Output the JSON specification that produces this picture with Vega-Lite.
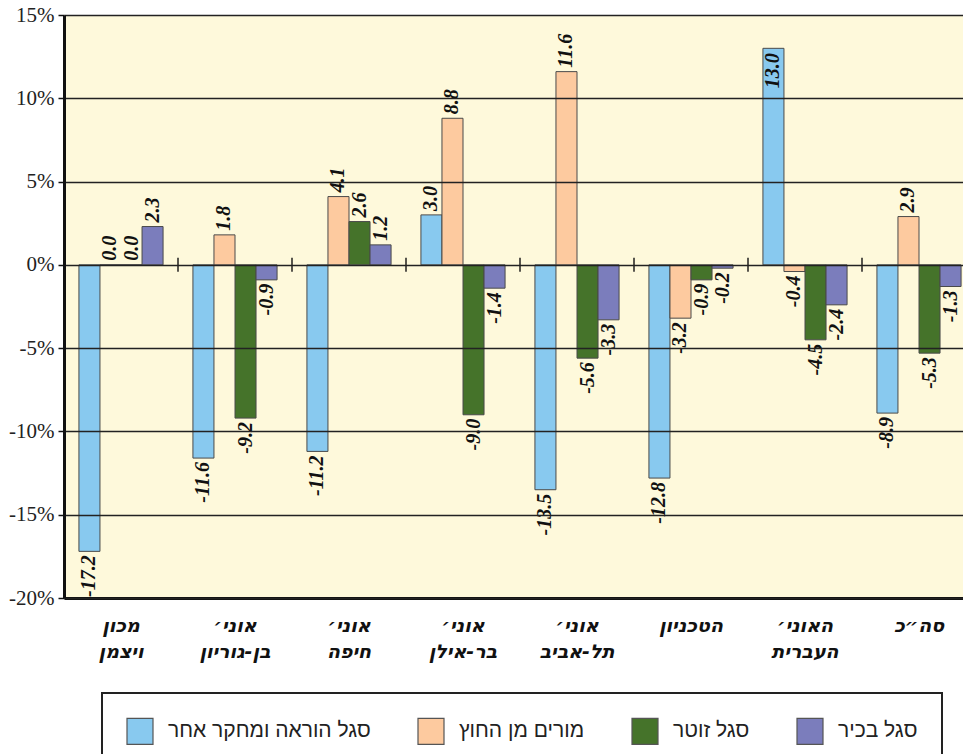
{
  "$schema": "https://vega.github.io/schema/vega-lite/v6.json",
  "width": 912,
  "height": 583,
  "autosize": {"type": "none"},
  "padding": {"left": 64, "top": 15, "right": 0, "bottom": 156},
  "background": "#FFFFFF",
  "config": {
    "view": {"stroke": null, "fill": "#FEF9DB"},
    "locale": {"number": {"decimal": ".", "thousands": ",", "grouping": [3], "currency": ["$", ""], "minus": "-"}}
  },
  "data": {
    "values": [
      {"group": "מכון|ויצמן", "series": "סגל הוראה ומחקר אחר", "value": -17.2},
      {"group": "מכון|ויצמן", "series": "מורים מן החוץ", "value": 0.0},
      {"group": "מכון|ויצמן", "series": "סגל זוטר", "value": 0.0},
      {"group": "מכון|ויצמן", "series": "סגל בכיר", "value": 2.3},
      {"group": "אוני׳|בן-גוריון", "series": "סגל הוראה ומחקר אחר", "value": -11.6},
      {"group": "אוני׳|בן-גוריון", "series": "מורים מן החוץ", "value": 1.8},
      {"group": "אוני׳|בן-גוריון", "series": "סגל זוטר", "value": -9.2},
      {"group": "אוני׳|בן-גוריון", "series": "סגל בכיר", "value": -0.9},
      {"group": "אוני׳|חיפה", "series": "סגל הוראה ומחקר אחר", "value": -11.2},
      {"group": "אוני׳|חיפה", "series": "מורים מן החוץ", "value": 4.1},
      {"group": "אוני׳|חיפה", "series": "סגל זוטר", "value": 2.6},
      {"group": "אוני׳|חיפה", "series": "סגל בכיר", "value": 1.2},
      {"group": "אוני׳|בר-אילן", "series": "סגל הוראה ומחקר אחר", "value": 3.0},
      {"group": "אוני׳|בר-אילן", "series": "מורים מן החוץ", "value": 8.8},
      {"group": "אוני׳|בר-אילן", "series": "סגל זוטר", "value": -9.0},
      {"group": "אוני׳|בר-אילן", "series": "סגל בכיר", "value": -1.4},
      {"group": "אוני׳|תל-אביב", "series": "סגל הוראה ומחקר אחר", "value": -13.5},
      {"group": "אוני׳|תל-אביב", "series": "מורים מן החוץ", "value": 11.6},
      {"group": "אוני׳|תל-אביב", "series": "סגל זוטר", "value": -5.6},
      {"group": "אוני׳|תל-אביב", "series": "סגל בכיר", "value": -3.3},
      {"group": "הטכניון", "series": "סגל הוראה ומחקר אחר", "value": -12.8},
      {"group": "הטכניון", "series": "מורים מן החוץ", "value": -3.2},
      {"group": "הטכניון", "series": "סגל זוטר", "value": -0.9},
      {"group": "הטכניון", "series": "סגל בכיר", "value": -0.2},
      {"group": "האוני׳|העברית", "series": "סגל הוראה ומחקר אחר", "value": 13.0},
      {"group": "האוני׳|העברית", "series": "מורים מן החוץ", "value": -0.4},
      {"group": "האוני׳|העברית", "series": "סגל זוטר", "value": -4.5},
      {"group": "האוני׳|העברית", "series": "סגל בכיר", "value": -2.4},
      {"group": "סה״כ", "series": "סגל הוראה ומחקר אחר", "value": -8.9},
      {"group": "סה״כ", "series": "מורים מן החוץ", "value": 2.9},
      {"group": "סה״כ", "series": "סגל זוטר", "value": -5.3},
      {"group": "סה״כ", "series": "סגל בכיר", "value": -1.3}
    ]
  },
  "layer": [
    {
      "mark": {"type": "bar", "stroke": "#4a4a4a", "strokeWidth": 1},
      "encoding": {
        "x": {
          "field": "group", "type": "nominal", "sort": null, "title": null,
          "scale": {"paddingInner": 0, "paddingOuter": 0},
          "axis": {
            "labelExpr": "split(datum.label, '|')",
            "labelAngle": 0,
            "labelFont": "DejaVu Sans",
            "labelFontWeight": "bold",
            "labelFontStyle": "italic",
            "labelFontSize": 19,
            "labelColor": "#111",
            "labelBaseline": "top",
            "labelLineHeight": 26,
            "labelPadding": 18,
            "ticks": false,
            "domainColor": "#111",
            "domainWidth": 3
          }
        },
        "xOffset": {
          "field": "series", "type": "nominal",
          "scale": {"domain": ["סגל הוראה ומחקר אחר", "מורים מן החוץ", "סגל זוטר", "סגל בכיר"], "paddingInner": 0, "paddingOuter": 0.71}
        },
        "y": {
          "field": "value", "type": "quantitative", "title": null,
          "scale": {"domain": [-20, 15], "nice": false, "zero": false},
          "axis": {
            "values": [-20, -15, -10, -5, 0, 5, 10, 15],
            "labelExpr": "datum.value + '%'",
            "labelFont": "Liberation Serif",
            "labelFontSize": 21,
            "labelColor": "#222",
            "labelPadding": 4,
            "tickSize": 6,
            "tickWidth": 1.5,
            "tickColor": "#111",
            "grid": true,
            "gridColor": "#222",
            "gridWidth": 1.5,
            "gridOpacity": 1,
            "domainColor": "#111",
            "domainWidth": 3,
            "zindex": 1
          }
        },
        "color": {
          "field": "series", "type": "nominal",
          "scale": {
            "domain": ["סגל הוראה ומחקר אחר", "מורים מן החוץ", "סגל זוטר", "סגל בכיר"],
            "range": ["#88C9EF", "#FDCA9F", "#45732A", "#7B7DBC"]
          },
          "legend": {
            "orient": "none",
            "direction": "horizontal",
            "legendX": 38,
            "legendY": 678,
            "title": null,
            "symbolType": "square",
            "symbolSize": 676,
            "symbolStrokeColor": "#555",
            "symbolStrokeWidth": 1.2,
            "labelFont": "Liberation Sans",
            "labelFontSize": 21,
            "labelColor": "#222",
            "labelOffset": 14,
            "labelLimit": 400,
            "columnPadding": 44,
            "padding": 24,
            "strokeColor": "#222",
            "fillColor": "#FFFFFF",
            "encode": {"legend": {"update": {"strokeWidth": {"value": 2}}}}
          }
        }
      }
    },
    {
      "transform": [{"filter": "datum.value >= 0 && datum.value < 12"}],
      "mark": {"type": "text", "angle": 270, "align": "left", "baseline": "middle", "dx": 4, "font": "Liberation Serif", "fontSize": 20, "fontWeight": "bold", "fontStyle": "italic", "color": "#111"},
      "encoding": {
        "x": {"field": "group", "type": "nominal", "sort": null, "title": null},
        "xOffset": {"field": "series", "type": "nominal"},
        "y": {"field": "value", "type": "quantitative", "title": null},
        "text": {"field": "value", "type": "quantitative", "format": ".1f"}
      }
    },
    {
      "transform": [{"filter": "datum.value < 0"}],
      "mark": {"type": "text", "angle": 270, "align": "right", "baseline": "middle", "dx": -4, "font": "Liberation Serif", "fontSize": 20, "fontWeight": "bold", "fontStyle": "italic", "color": "#111"},
      "encoding": {
        "x": {"field": "group", "type": "nominal", "sort": null, "title": null},
        "xOffset": {"field": "series", "type": "nominal"},
        "y": {"field": "value", "type": "quantitative", "title": null},
        "text": {"field": "value", "type": "quantitative", "format": ".1f"}
      }
    },
    {
      "transform": [{"filter": "datum.value >= 12"}],
      "mark": {"type": "text", "angle": 270, "align": "right", "baseline": "middle", "dx": -5, "font": "Liberation Serif", "fontSize": 20, "fontWeight": "bold", "fontStyle": "italic", "color": "#111"},
      "encoding": {
        "x": {"field": "group", "type": "nominal", "sort": null, "title": null},
        "xOffset": {"field": "series", "type": "nominal"},
        "y": {"field": "value", "type": "quantitative", "title": null},
        "text": {"field": "value", "type": "quantitative", "format": ".1f"}
      }
    },
    {
      "transform": [{"filter": "datum.series === 'סגל הוראה ומחקר אחר' && datum.group !== 'מכון|ויצמן'"}],
      "mark": {"type": "tick", "orient": "vertical", "color": "#111", "thickness": 2, "size": 14},
      "encoding": {
        "x": {"field": "group", "type": "nominal", "sort": null, "title": null, "bandPosition": 0},
        "y": {"datum": 0}
      }
    }
  ]
}
